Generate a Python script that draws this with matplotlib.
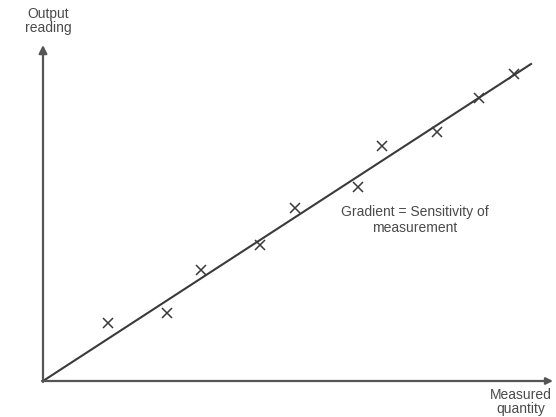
import numpy as np
from matplotlib import pyplot as plt

# measured quantity / output reading (arbitrary units, origin at 0)
measured = [65, 124, 158, 217, 252, 315, 339, 394, 436, 471]
reading = [58, 68, 111, 136, 173, 194, 235, 249, 283, 307]

# fitted straight line through origin
line_x = [0, 488]
line_y = [0, 317]

plt.rcParams['font.family'] = ['Liberation Sans', 'DejaVu Sans']

fig = plt.figure(figsize=(5.56, 4.17), dpi=100)
ax = fig.add_axes([0, 0, 1, 1])
ax.set_xlim(-43, 513)
ax.set_ylim(-36, 381)
ax.axis('off')

ink = '#3a3a3a'
txt = '#4a4a4a'

# axes with arrow heads
ax.annotate('', xy=(0, 336), xytext=(0, -1),
            arrowprops=dict(arrowstyle='-|>', color='#555555', lw=1.6,
                            mutation_scale=12, shrinkA=0, shrinkB=0))
ax.annotate('', xy=(510, 0), xytext=(-1, 0),
            arrowprops=dict(arrowstyle='-|>', color='#555555', lw=1.6,
                            mutation_scale=10, shrinkA=0, shrinkB=0))

ax.plot(line_x, line_y, color=ink, lw=1.5)
ax.plot(measured, reading, linestyle='none', marker='x', color=ink,
        markersize=7, markeredgewidth=1.1)

ax.text(5, 360, 'Output\nreading', ha='center', va='center',
        fontsize=10, color=txt, linespacing=1.05)
ax.text(478, -21, 'Measured\nquantity', ha='center', va='center',
        fontsize=10, color=txt, linespacing=1.05)
ax.text(372, 161, 'Gradient = Sensitivity of\nmeasurement', ha='center',
        va='center', fontsize=10, color=txt, linespacing=1.1)

fig.savefig('out.png', dpi=100)
